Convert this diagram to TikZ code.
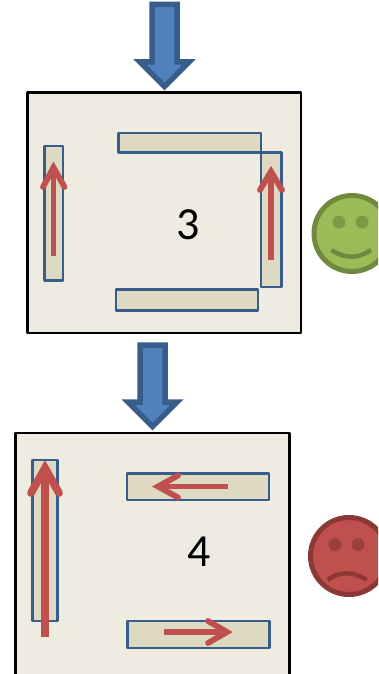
\documentclass[tikz,border=0pt]{standalone}
\usepackage{fontspec}
\setmainfont{Carlito}
\definecolor{boxfill}{HTML}{EEECE1}
\definecolor{tan}{HTML}{DDD9C3}
\definecolor{bluefill}{HTML}{4F81BD}
\definecolor{blueline}{HTML}{385D8A}
\definecolor{redfill}{HTML}{C0504D}
\definecolor{redline}{HTML}{8C3836}
\definecolor{redeye}{HTML}{9A403E}
\definecolor{greenfill}{HTML}{9BBB59}
\definecolor{greenline}{HTML}{71893F}
\definecolor{greeneye}{HTML}{7D9A47}
\tikzset{
  panel/.style={draw=black,fill=boxfill,line width=2.6pt,line join=round},
  bar/.style={draw=blueline,fill=tan,line width=2.2pt,line join=round},
  blockarrow/.style={draw=blueline,fill=bluefill,line width=5.5pt,line join=miter},
  redshaft/.style={draw=redfill,line cap=butt},
  redhead/.style={draw=redfill,line cap=round,line join=miter},
  digit/.style={font=\fontsize{46}{46}\selectfont,text=black,inner sep=0pt},
}
\begin{document}
\begin{tikzpicture}[x=1pt,y=-1pt]
\useasboundingbox (0,0) rectangle (378,674);
\clip (0,0) rectangle (378,674);
% upper block arrow
\draw[blockarrow] (152,4.5) -- (177,4.5) -- (177,62) -- (189,62) -- (164.5,86.5) -- (140,62) -- (152,62) -- cycle;
% panel 3
\draw[panel] (27.5,92.5) rectangle (301,333);
\draw[bar] (118.5,133) rectangle (261,152.5);
\draw[bar] (261,152.5) rectangle (281.5,287);
\draw[bar] (44.5,146) rectangle (63,280.5);
\draw[bar] (116,289.5) rectangle (258,310.5);
\node[digit] (three) at (188,225) {3};
\draw[redshaft,line width=5.8pt] (53.5,256) -- (53.5,170);
\draw[redhead,line width=5.8pt] (43,187) -- (53.5,167.5) -- (64.5,187);
\draw[redshaft,line width=5.8pt] (271,260) -- (271,174);
\draw[redhead,line width=5.8pt] (260,190) -- (271,171.5) -- (282,190);
% smiley
\draw[draw=greenline,fill=greenfill,line width=5pt] (352,233.5) circle (38);
\fill[greeneye] (339,222) circle (6.5);
\fill[greeneye] (362,222) circle (6.5);
\draw[draw=greenline,line width=4.5pt] (331.5,250) .. controls (345,259) and (358,259) .. (371,250);
% lower block arrow
\draw[blockarrow] (140,345) -- (165,345) -- (165,402) -- (177,402) -- (152.5,426.5) -- (128,402) -- (140,402) -- cycle;
% panel 4
\draw[panel] (15.5,433) rectangle (289.5,690);
\draw[bar] (32.5,460) rectangle (57.5,621);
\draw[bar] (127,473.5) rectangle (269,500);
\draw[bar] (127.5,621) rectangle (269.5,648);
\node[digit] (four) at (199,551.5) {4};
\draw[redshaft,line width=7.8pt] (45,637) -- (45,470);
\draw[redhead,line width=7.8pt] (31,493) -- (45,468) -- (59,493);
\draw[redshaft,line width=5.8pt] (228,486.5) -- (160,486.5);
\draw[redhead,line width=5.8pt] (178,475.5) -- (158,486.5) -- (178,497.5);
\draw[redshaft,line width=5.8pt] (164,632) -- (226,632);
\draw[redhead,line width=5.8pt] (208,621) -- (227,632) -- (208,643);
% frowny
\draw[draw=redline,fill=redfill,line width=5pt] (349,556) circle (38.5);
\fill[redeye] (335,544.5) circle (6.5);
\fill[redeye] (358,544.5) circle (6.5);
\draw[draw=redline,line width=4.5pt] (327.5,580) .. controls (340,571) and (353,571) .. (366.5,580);
\end{tikzpicture}
\end{document}
